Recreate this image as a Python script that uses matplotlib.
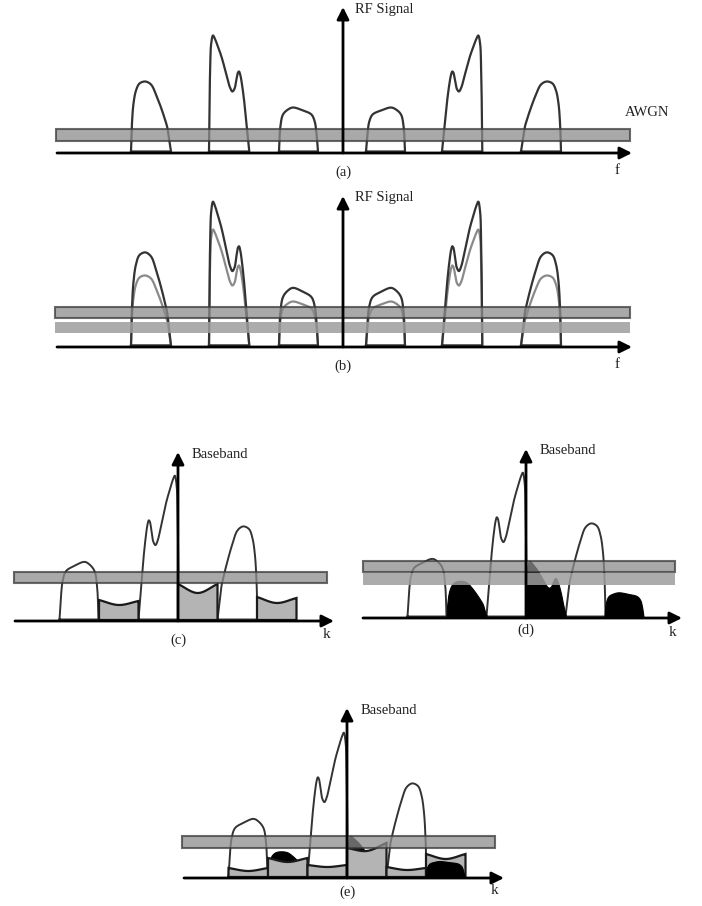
import numpy as np
import matplotlib.pyplot as plt
from matplotlib.patches import Rectangle

plt.rcParams['font.family'] = ['Liberation Serif', 'DejaVu Serif']

# --- channel shapes: offset from left edge [px] / height above baseline [px] ---
BUMP_X = [0, 0.8, 2.5, 5, 8.5, 14.3, 20, 25, 30, 34, 36.3, 38, 40]
BUMP_H = [0, 25, 48, 61, 68, 70, 67, 57, 44, 32, 24, 13, 0]
DOUBLE_X = [0, 0.5, 1.2, 2.2, 4, 5.8, 8.5, 12.4, 17.4, 21, 23.4, 25.6, 27.4, 29, 30, 31.2, 32.7, 35, 37.7, 40.3]
DOUBLE_H = [0, 45, 85, 108, 116, 113, 106, 95, 77, 64, 60, 63, 72, 79, 80, 77, 69, 52, 25, 0]
FLAT_X = [0, 1.4, 4, 9, 14, 24, 32.4, 35.7, 37.4, 39]
FLAT_H = [0, 25, 37, 42, 44, 41, 37, 30, 19, 0]
SHAPES = {'bump': (BUMP_X, BUMP_H), 'double': (DOUBLE_X, DOUBLE_H), 'flat': (FLAT_X, FLAT_H)}

# RF spectrum (panels a, b): left edge of each channel relative to f = 0
RF_OFFSETS = [-212, -134, -64, 23, 99, 178]
RF_SHAPES = ['bump', 'double', 'flat', 'flat', 'double', 'bump']
RF_MIRROR = [False, False, False, True, True, True]
TX_GAIN = {'bump': 1.33, 'double': 1.24, 'flat': 1.31}

# baseband (panels c, d, e): slots around k = 0
SLOT_W = 39.5
BB_SIG_SLOTS = [-3, -1, 1]
BB_SIG_SHAPES = ['flat', 'double', 'bump']
C_BLOCK_SLOTS = [-2, 0, 2]
C_BLOCK_TOPS = [(20, 15, 19), (36, 27, 36), (23, 17, 22)]
D_BLOB_SLOTS = [-2, 0, 2]
D_BLOB_SHAPES = ['bump', 'double', 'flat']
D_BLOB_GAIN = [0.51, 0.48, 0.55]
E_BLOCK_SLOTS = [-3, -2, -1, 0, 1, 2]
E_BLOCK_TOPS = [(9, 6, 9), (19, 15, 19), (12, 10, 12), (29, 26, 34), (10, 7, 9), (23, 18, 23)]
E_BLOB_SLOTS = [-2, 0, 2]
E_BLOB_SHAPES = ['bump', 'double', 'flat']
E_BLOB_GAIN = [0.36, 0.35, 0.35]
E_BLOB_FRONT = [False, False, True]

DARK = '#333333'
LIGHT = '#8a8a8a'


def smooth(px, py, n=14):
    # centripetal catmull-rom through the control points
    P = np.column_stack([px, py]).astype(float)
    P = np.vstack([2 * P[0] - P[1], P, 2 * P[-1] - P[-2]])
    out = []
    for i in range(1, len(P) - 2):
        p0, p1, p2, p3 = P[i - 1], P[i], P[i + 1], P[i + 2]
        d = lambda a, b: max(np.linalg.norm(b - a) ** 0.5, 1e-6)
        t0 = 0.0
        t1 = t0 + d(p0, p1)
        t2 = t1 + d(p1, p2)
        t3 = t2 + d(p2, p3)
        t = np.linspace(t1, t2, n, endpoint=False)[:, None]
        a1 = (t1 - t) / (t1 - t0) * p0 + (t - t0) / (t1 - t0) * p1
        a2 = (t2 - t) / (t2 - t1) * p1 + (t - t1) / (t2 - t1) * p2
        a3 = (t3 - t) / (t3 - t2) * p2 + (t - t2) / (t3 - t2) * p3
        b1 = (t2 - t) / (t2 - t0) * a1 + (t - t0) / (t2 - t0) * a2
        b2 = (t3 - t) / (t3 - t1) * a2 + (t - t1) / (t3 - t1) * a3
        out.append((t2 - t) / (t2 - t1) * b1 + (t - t1) / (t2 - t1) * b2)
    out.append(P[-2][None])
    return np.vstack(out)


def signal_pts(x0, yb, shape, mirror, gain):
    X, H = SHAPES[shape]
    X = np.asarray(X, float)
    H = np.asarray(H, float) * gain
    if mirror:
        X = X[-1] - X[::-1]
        H = H[::-1]
    return smooth(x0 + X, yb - H)


def draw_signal(ax, x0, yb, shape, mirror, gain, color=DARK, lw=1.6, z=2):
    p = signal_pts(x0, yb, shape, mirror, gain)
    ax.plot(np.r_[p[:, 0], p[0, 0]], np.r_[p[:, 1], p[0, 1]], color=color, lw=lw,
            zorder=z, solid_joinstyle='round')


def draw_blob(ax, x0, yb, shape, mirror, gain, z=3):
    p = signal_pts(x0, yb, shape, mirror, gain)
    ax.fill(p[:, 0], p[:, 1], facecolor='black', edgecolor='black', lw=0.8, zorder=z)


def draw_block(ax, x0, yb, tops, z=3):
    hl, hm, hr = tops
    top = smooth([x0, x0 + SLOT_W / 2, x0 + SLOT_W], [yb - hl, yb - hm, yb - hr])
    xs = np.r_[x0, top[:, 0], x0 + SLOT_W, x0]
    ys = np.r_[yb, top[:, 1], yb, yb]
    ax.fill(xs, ys, facecolor='#b4b4b4', edgecolor='#1a1a1a', lw=1.6, zorder=z)


def band(ax, x0, x1, y0, y1, face='#8c8c8c', edge='#3a3a3a', alpha=0.75):
    ax.add_patch(Rectangle((x0, y0), x1 - x0, y1 - y0, facecolor=face, edgecolor=edge,
                           lw=1.5, alpha=alpha, zorder=4))


def axes_arrows(ax, x0, x1, yb, xv, ytop, label, lx, ly, hx, hy, hlab, tag, tx, ty):
    kw = dict(arrowstyle='-|>', color='black', lw=2, mutation_scale=18, shrinkA=0, shrinkB=0)
    ax.annotate('', xy=(x1, yb), xytext=(x0, yb), arrowprops=kw, zorder=6)
    ax.annotate('', xy=(xv, ytop), xytext=(xv, yb), arrowprops=kw, zorder=6)
    ax.text(lx, ly, label, fontsize=10.5, ha='left', va='center', color='#222222')
    ax.text(hx, hy, hlab, fontsize=11, ha='center', va='center', color='#222222')
    ax.text(tx, ty, tag, fontsize=10.5, ha='center', va='center', color='#222222')


fig = plt.figure(figsize=(7.02, 9.06), dpi=100)
ax = fig.add_axes([0, 0, 1, 1])
ax.set_xlim(0, 702)
ax.set_ylim(906, 0)
ax.axis('off')

# --- (a) RF spectrum with AWGN ---
f0, yb = 343, 153
for off, shp, mir in zip(RF_OFFSETS, RF_SHAPES, RF_MIRROR):
    draw_signal(ax, f0 + off, yb - 1.5, shp, mir, 1.0)
band(ax, 56, 630, 129, 141)
ax.text(625, 113, 'AWGN', fontsize=10.5, ha='left', va='center', color='#222222')
axes_arrows(ax, 57, 632, yb, f0, 7, 'RF Signal', 355, 9, 617, 170, 'f', '(a)', 343, 172)

# --- (b) transmitted (dark) vs received (grey) ---
f0, yb = 343, 347
for off, shp, mir in zip(RF_OFFSETS, RF_SHAPES, RF_MIRROR):
    draw_signal(ax, f0 + off, yb - 1.5, shp, mir, 1.0, color=LIGHT)
    draw_signal(ax, f0 + off, yb - 1.5, shp, mir, TX_GAIN[shp])
band(ax, 55, 630, 307, 318)
band(ax, 55, 630, 322, 333, face='#9e9e9e', edge='none', alpha=0.85)
axes_arrows(ax, 57, 632, yb, f0, 196, 'RF Signal', 355, 197, 617, 365, 'f', '(b)', 343, 366)

# --- (c) ---
k0, yb = 178, 621
for s, shp in zip(BB_SIG_SLOTS, BB_SIG_SHAPES):
    draw_signal(ax, k0 + s * SLOT_W, yb - 1.5, shp, True, TX_GAIN[shp], lw=1.4)
for s, top in zip(C_BLOCK_SLOTS, C_BLOCK_TOPS):
    draw_block(ax, k0 + s * SLOT_W, yb - 1, top)
band(ax, 14, 327, 572, 583)
axes_arrows(ax, 15, 334, yb, k0, 452, 'Baseband', 192, 454, 327, 634, 'k', '(c)', 178, 640)

# --- (d) ---
k0, yb = 526, 618
for s, shp in zip(BB_SIG_SLOTS, BB_SIG_SHAPES):
    draw_signal(ax, k0 + s * SLOT_W, yb - 1.5, shp, True, TX_GAIN[shp], lw=1.4)
for s, shp, g in zip(D_BLOB_SLOTS, D_BLOB_SHAPES, D_BLOB_GAIN):
    draw_blob(ax, k0 + s * SLOT_W, yb - 1, shp, False, g)
band(ax, 363, 675, 561, 572)
band(ax, 363, 675, 573, 585, face='#9e9e9e', edge='none', alpha=0.85)
axes_arrows(ax, 363, 682, yb, k0, 449, 'Baseband', 540, 451, 673, 632, 'k', '(d)', 526, 630)

# --- (e) ---
k0, yb = 347, 878
for s, shp in zip(BB_SIG_SLOTS, BB_SIG_SHAPES):
    draw_signal(ax, k0 + s * SLOT_W, yb - 1.5, shp, True, TX_GAIN[shp], lw=1.4)
for s, top in zip(E_BLOCK_SLOTS, E_BLOCK_TOPS):
    draw_block(ax, k0 + s * SLOT_W, yb - 1, top)
for s, shp, g, front in zip(E_BLOB_SLOTS, E_BLOB_SHAPES, E_BLOB_GAIN, E_BLOB_FRONT):
    draw_blob(ax, k0 + s * SLOT_W, yb - 1, shp, False, g, z=3.5 if front else 2.5)
band(ax, 182, 495, 836, 848)
axes_arrows(ax, 184, 504, yb, k0, 708, 'Baseband', 361, 711, 495, 891, 'k', '(e)', 347, 892)

fig.savefig('out.png', dpi=100)
